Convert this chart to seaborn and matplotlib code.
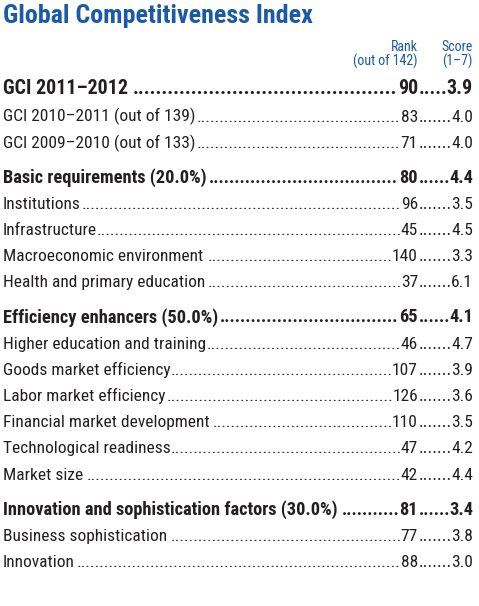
import matplotlib
matplotlib.use("Agg")
import matplotlib.pyplot as plt
import seaborn as sns
import pandas as pd

labels = ["GCI 2011\u20132012", "GCI 2010\u20132011 (out of 139)", "GCI 2009\u20132010 (out of 133)",
          "Basic requirements (20.0%)", "Institutions", "Infrastructure",
          "Macroeconomic environment", "Health and primary education",
          "Efficiency enhancers (50.0%)", "Higher education and training",
          "Goods market efficiency", "Labor market efficiency",
          "Financial market development", "Technological readiness", "Market size",
          "Innovation and sophistication factors (30.0%)", "Business sophistication",
          "Innovation"]
ranks = [90, 83, 71, 80, 96, 45, 140, 37, 65, 46, 107, 126, 110, 47, 42, 81, 77, 88]
scores = [3.9, 4.0, 4.0, 4.4, 3.5, 4.5, 3.3, 6.1, 4.1, 4.7, 3.9, 3.6, 3.5, 4.2, 4.4, 3.4, 3.8, 3.0]
kinds = ["top", "sub", "sub", "head", "sub", "sub", "sub", "sub",
         "head", "sub", "sub", "sub", "sub", "sub", "sub", "head", "sub", "sub"]
# labels that have a space before the leader dots
spaced = [True, False, False, False, False, False, True, True,
          False, False, False, False, True, False, True, True, True, False]

df = pd.DataFrame({"label": labels, "rank": ranks, "score": scores, "kind": kinds, "spaced": spaced})

sns.set_theme(style="white")
plt.rcParams["font.family"] = ["Roboto Condensed", "DejaVu Sans"]

W, H = 479, 606
fig = plt.figure(figsize=(W / 100, H / 100), dpi=100)
ax = fig.add_axes([0, 0, 1, 1])
ax.set_xlim(0, W)
ax.set_ylim(H, 0)
ax.axis("off")

blue = "#1b5aa6"
ink = "#231f20"
x_left, x_rank, x_score = 3, 418, 473

ax.text(x_left, 23, "Global Competitiveness Index", fontsize=18.7, fontweight="bold",
        color=blue, va="baseline")
ax.text(x_rank, 51, "Rank", fontsize=10, color=blue, ha="right", va="baseline")
ax.text(x_rank, 66, "(out of 142)", fontsize=10, color=blue, ha="right", va="baseline")
ax.text(x_score, 51, "Score", fontsize=10, color=blue, ha="right", va="baseline")
ax.text(x_score, 66, "(1\u20137)", fontsize=10, color=blue, ha="right", va="baseline")

fig.canvas.draw()
rend = fig.canvas.get_renderer()


def leader(x0, x1, y, size, weight):
    # fill the gap between x0 and x1 with dots; nudge the size so they fit exactly
    probe = ax.text(0, 0, "." * 20, fontsize=size, fontweight=weight)
    dot_w = probe.get_window_extent(rend).width / 20
    probe.remove()
    span = x1 - x0
    n = max(1, round(span / dot_w))
    s = size * span / (n * dot_w)
    ax.text((x0 + x1) / 2 + 0.8, y, "." * n, fontsize=s, fontweight=weight, color=ink,
            ha="center", va="baseline")


y = 94
prev = None
for i, r in df.iterrows():
    if r["kind"] == "top":
        size, weight = 14.4, "bold"
    elif r["kind"] == "head":
        size, weight = 13.2, "bold"
    else:
        size, weight = 12.5, "normal"
    if prev == "top":
        y += 27.5
    elif prev is not None:
        y += 35 if r["kind"] == "head" else 26.2
    t1 = ax.text(x_left, y, r["label"], fontsize=size, fontweight=weight, color=ink, va="baseline")
    t2 = ax.text(x_rank, y, str(r["rank"]), fontsize=size, fontweight=weight, color=ink,
                 ha="right", va="baseline")
    t3 = ax.text(x_score, y, f"{r['score']:.1f}", fontsize=size, fontweight=weight, color=ink,
                 ha="right", va="baseline")
    b1 = t1.get_window_extent(rend)
    b2 = t2.get_window_extent(rend)
    b3 = t3.get_window_extent(rend)
    gap = 3 if r["spaced"] else 0
    leader(b1.x1 + gap, b2.x0, y, size, weight)
    leader(b2.x1, b3.x0, y, size, weight)
    prev = r["kind"]

fig.savefig("out.png", dpi=100)
